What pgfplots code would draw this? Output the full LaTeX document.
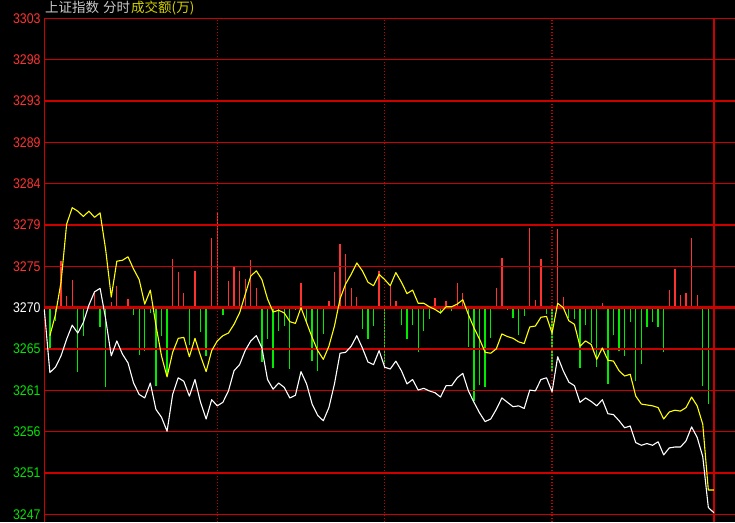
\documentclass[border=0pt]{standalone}
\usepackage{pgfplots}
\pgfplotsset{compat=1.18}
\usepackage{pgfplotstable}
\usepackage{fontspec}
\setmainfont{Liberation Sans}
\newfontfamily\cjk{Noto Sans CJK SC}
\newfontfamily\lbl[FakeStretch=0.88]{Liberation Sans}

\definecolor{gridred}{RGB}{205,0,0}
\definecolor{barred}{RGB}{255,50,50}
\definecolor{bargreen}{RGB}{0,235,0}
\definecolor{lblred}{RGB}{255,50,50}
\definecolor{lblgreen}{RGB}{0,230,0}
\definecolor{avgyellow}{RGB}{255,255,0}
\definecolor{titlegrey}{RGB}{200,200,200}
\definecolor{titleyellow}{RGB}{210,210,0}

% index (2-minute step), price, average price
\pgfplotstableread{
i price avg
0 3269.8 nan
1 3262.6 3266.8
2 3263.2 3269.2
3 3264.5 3272.9
4 3266.4 3279.5
5 3268.0 3281.4
6 3267.1 3281.0
7 3268.3 3280.4
8 3270.3 3281.0
9 3271.8 3280.3
10 3272.2 3280.8
11 3268.7 3276.6
12 3264.5 3271.2
13 3266.2 3275.3
14 3264.7 3275.4
15 3263.7 3275.8
16 3261.4 3274.4
17 3260.1 3273.2
18 3259.7 3270.4
19 3261.4 3272.0
20 3258.4 3268.0
21 3257.5 3264.5
22 3255.9 3262.1
23 3260.1 3264.9
24 3262.0 3266.5
25 3261.6 3266.6
26 3259.9 3264.4
27 3261.8 3266.5
28 3259.2 3264.5
29 3257.3 3262.7
30 3259.5 3265.1
31 3258.8 3266.2
32 3259.2 3266.8
33 3260.5 3267.1
34 3262.8 3268.1
35 3263.5 3269.4
36 3265.1 3271.5
37 3266.2 3273.6
38 3266.8 3274.2
39 3265.4 3273.2
40 3261.8 3271.0
41 3260.7 3269.5
42 3261.4 3269.7
43 3260.9 3269.4
44 3259.7 3268.4
45 3260.0 3268.2
46 3262.7 3270.0
47 3261.3 3268.3
48 3259.0 3266.6
49 3257.7 3265.1
50 3257.1 3264.1
51 3258.6 3265.6
52 3261.3 3267.9
53 3264.8 3271.0
54 3264.9 3272.7
55 3265.6 3273.8
56 3266.8 3275.1
57 3265.4 3274.2
58 3263.8 3272.9
59 3263.5 3272.5
60 3265.1 3273.8
61 3263.2 3273.2
62 3263.0 3272.5
63 3263.9 3274.0
64 3262.8 3272.9
65 3261.3 3271.6
66 3261.8 3272.0
67 3260.6 3270.5
68 3260.8 3270.5
69 3260.5 3270.1
70 3260.3 3269.8
71 3259.8 3269.4
72 3261.1 3270.1
73 3261.1 3270.1
74 3262.0 3270.4
75 3262.5 3270.9
76 3260.5 3269.2
77 3259.2 3267.7
78 3258.0 3266.4
79 3257.0 3264.9
80 3257.3 3264.8
81 3258.4 3265.3
82 3259.7 3267.0
83 3259.2 3266.7
84 3258.7 3266.5
85 3258.8 3266.1
86 3258.5 3265.9
87 3260.6 3267.8
88 3260.5 3267.9
89 3261.8 3268.9
90 3262.0 3269.0
91 3260.4 3267.1
92 3264.4 3270.5
93 3262.8 3270.0
94 3261.5 3268.5
95 3261.1 3268.1
96 3259.2 3265.6
97 3259.7 3266.2
98 3259.3 3265.8
99 3258.8 3264.1
100 3259.5 3265.4
101 3257.9 3264.0
102 3257.8 3263.9
103 3257.1 3262.8
104 3256.3 3262.2
105 3256.5 3262.4
106 3254.6 3259.9
107 3254.3 3259.0
108 3254.5 3258.9
109 3254.3 3258.8
110 3254.7 3258.6
111 3253.2 3257.3
112 3254.0 3258.1
113 3254.1 3258.3
114 3254.1 3258.2
115 3254.8 3258.6
116 3256.4 3259.8
117 3255.2 3258.8
118 3253.0 3256.7
119 3247.2 3249.2
120 3246.6 3249.2
}\pricetab

% turnover bars, height measured from the previous close line
\pgfplotstableread{
i v
3 5.32
4 1.33
5 3.14
9 1.71
12 0.62
13 2.47
15 1.00
23 5.59
24 4.07
25 1.63
27 4.18
30 7.91
31 10.84
33 3.04
34 4.64
35 4.18
36 3.23
37 5.40
38 2.21
46 2.77
51 0.76
52 4.11
53 7.22
54 6.08
55 2.20
56 1.25
60 4.18
62 2.55
63 0.76
70 1.06
72 0.76
74 2.77
75 1.71
81 2.20
82 5.70
87 9.12
88 0.84
89 5.51
92 8.93
93 1.25
100 0.49
112 1.98
113 4.37
114 1.41
115 1.71
116 7.91
117 1.41
}\redbars

\pgfplotstableread{
i v
1 -4.56
2 -1.52
6 -7.34
7 -3.23
10 -2.20
11 -9.05
14 -0.20
16 -0.85
17 -5.40
18 -4.94
19 -0.57
20 -8.93
21 -3.23
22 -7.79
26 -4.30
28 -2.78
29 -5.51
32 -0.84
39 -6.20
40 -3.61
41 -6.84
42 -2.66
43 -2.09
44 -7.03
45 -0.27
47 -1.63
48 -6.08
49 -7.22
50 -3.04
57 -2.47
58 -3.61
59 -2.09
61 -6.46
64 -2.01
65 -3.61
66 -2.01
67 -5.06
68 -2.66
69 -1.25
71 -0.76
73 -0.38
76 -4.49
77 -10.65
78 -8.84
79 -9.05
80 -3.46
83 -0.23
84 -1.14
85 -3.12
86 -0.95
90 -0.76
91 -7.26
94 -1.22
95 -1.29
96 -6.84
97 -1.98
98 -4.00
99 -6.77
101 -8.67
102 -3.12
103 -4.94
104 -5.51
105 -1.63
106 -8.36
107 -6.39
108 -2.20
109 -1.60
110 -2.20
111 -5.06
118 -8.93
119 -10.95
120 -2.66
}\greenbars

\newcommand\lblfont{\lbl\fontsize{14}{16}\selectfont}

\begin{document}
\begin{tikzpicture}
\path[use as bounding box, fill=black] (0,0) rectangle (735pt,522pt);

% title
\node[anchor=base west, inner sep=0pt, text=titlegrey, font=\cjk\fontsize{13.5}{15}\selectfont] at (45pt,509pt) {上证指数};
\node[anchor=base west, inner sep=0pt, text=titlegrey, font=\cjk\fontsize{13.5}{15}\selectfont] at (103pt,509pt) {分时};
\node[anchor=base west, inner sep=0pt, text=titleyellow, font=\cjk\fontsize{13.5}{15}\selectfont] at (131pt,509pt) {成交额(万)};

% bars, in offsets from the previous close
\begin{axis}[
    at={(44.3pt,0pt)}, anchor=south west,
    scale only axis, width=690.7pt, height=503.7pt,
    xmin=0, xmax=123.78, ymin=-24.45, ymax=33.0,
    hide axis,
  ]
  \addplot[ycomb, draw=barred, line width=1.3pt] table[x=i, y=v] {\redbars};
  \addplot[ycomb, draw=bargreen, line width=1.3pt] table[x=i, y=v] {\greenbars};
\end{axis}

% price axis
\begin{axis}[
    at={(44.3pt,0pt)}, anchor=south west,
    scale only axis, width=690.7pt, height=503.7pt,
    xmin=0, xmax=123.78, ymin=3245.55, ymax=3303,
    axis line style={draw=none},
    tick style={draw=none},
    xtick={31,61,91}, xticklabels={},
    xmajorgrids, x grid style={gridred, line width=1.2pt, dash pattern=on 1pt off 2pt},
    ytick={3246.43,3251.14,3255.86,3260.57,3265.29,3270,3274.71,3279.43,3284.14,3288.86,3293.57,3298.29,3303},
    yticklabels={
      \textcolor{lblgreen}{3247},\textcolor{lblgreen}{3251},\textcolor{lblgreen}{3256},
      \textcolor{lblgreen}{3261},\textcolor{lblgreen}{3265},\textcolor{white}{3270},
      \textcolor{lblred}{3275},\textcolor{lblred}{3279},\textcolor{lblred}{3284},
      \textcolor{lblred}{3289},\textcolor{lblred}{3293},\textcolor{lblred}{3298},
      \textcolor{lblred}{3303}},
    ymajorgrids, y grid style={gridred, line width=1.2pt},
    yticklabel style={font=\lblfont, anchor=east, inner sep=0pt, xshift=-3.6pt},
    clip=false,
  ]
  \draw[gridred, line width=2.4pt] (axis cs:0,3270) -- (axis cs:123.78,3270);
  \draw[gridred, line width=1.3pt] (axis cs:0,3245.55) -- (axis cs:0,3303);
  \draw[gridred, line width=1.3pt] (axis cs:120,3245.55) -- (axis cs:120,3303);
  \addplot[white, line width=1.1pt, line join=round] table[x=i, y=price] {\pricetab};
  \addplot[avgyellow, line width=1.1pt, line join=round] table[x=i, y=avg] {\pricetab};
\end{axis}
\end{tikzpicture}
\end{document}
